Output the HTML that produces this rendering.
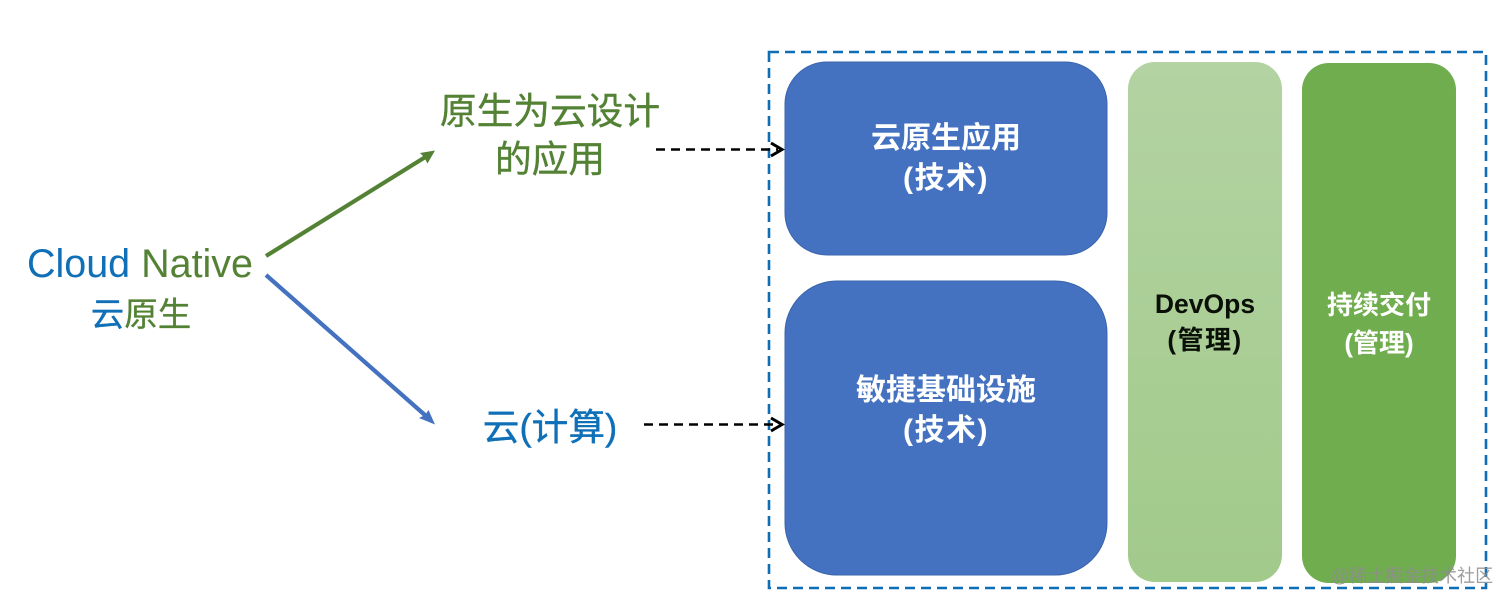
<!DOCTYPE html>
<html>
<head>
<meta charset="utf-8">
<style>
html,body{margin:0;padding:0;background:#fff;width:1512px;height:605px;overflow:hidden}
svg{display:block}
text{font-family:"Liberation Sans","Noto Sans CJK SC",sans-serif;text-anchor:middle}
</style>
</head>
<body>
<svg width="1512" height="605" viewBox="0 0 1512 605" xmlns="http://www.w3.org/2000/svg">
<defs>
<linearGradient id="dv" x1="0" y1="0" x2="0" y2="1"><stop offset="0" stop-color="#b3d3a2"/><stop offset="1" stop-color="#a2ca8b"/></linearGradient>
</defs>
<rect width="1512" height="605" fill="#fff"/>
<rect x="785" y="62" width="322" height="193" rx="42" fill="#4472c0" stroke="#3b64ad" stroke-width="1"/>
<rect x="785" y="281" width="322" height="294" rx="52" fill="#4472c0" stroke="#3b64ad" stroke-width="1"/>
<rect x="1128" y="62" width="154" height="520" rx="27" fill="url(#dv)"/>
<rect x="1302" y="63" width="154" height="520" rx="27" fill="#70ad4e"/>
<path d="M769 52H1486V588H769Z" fill="none" stroke="#0e6db5" stroke-width="2.600" stroke-dasharray="10 6"/>
<text x="140" y="277" font-size="39.500" fill="#0f70b7" textLength="226" lengthAdjust="spacing"><tspan>Cloud </tspan><tspan fill="#548235">Native</tspan></text>
<text x="141" y="326" font-size="33.500" fill="#548235" stroke="#548235" stroke-width="0.300"><tspan fill="#0f70b7" stroke="#0f70b7">云</tspan>原生</text>
<text x="550" y="124" font-size="36.700" fill="#548235" stroke="#548235" stroke-width="0.400">原生为云设计</text>
<text x="550" y="172" font-size="36.700" fill="#548235" stroke="#548235" stroke-width="0.400">的应用</text>
<text x="550" y="440" font-size="36.700" fill="#0f70b7" stroke="#0f70b7" stroke-width="0.400">云(计算)</text>
<text x="946" y="148" font-size="30" font-weight="700" fill="#fff">云原生应用</text>
<text x="946" y="188" font-size="30" font-weight="700" fill="#fff" letter-spacing="1.500">(技术)</text>
<text x="946" y="400" font-size="30" font-weight="700" fill="#fff">敏捷基础设施</text>
<text x="946" y="440" font-size="30" font-weight="700" fill="#fff" letter-spacing="1.500">(技术)</text>
<text x="1205" y="313" font-size="26.500" font-weight="700" fill="#0a0f08">DevOps</text>
<text x="1205" y="349" font-size="26" font-weight="700" fill="#0a0f08" letter-spacing="1.500">(管理)</text>
<text x="1379" y="314" font-size="26" font-weight="700" fill="#fff">持续交付</text>
<text x="1379" y="352" font-size="26" font-weight="700" fill="#fff">(管理)</text>
<line x1="266" y1="256" x2="426" y2="156.600" stroke="#548235" stroke-width="4.200"/>
<path d="M435 150.500L420 153L424 157L427.500 163.500Z" fill="#548235"/>
<line x1="266" y1="275" x2="426" y2="416" stroke="#4472c0" stroke-width="4.200"/>
<path d="M435 424.500L428.500 410L425 415L419 418Z" fill="#4472c0"/>
<path d="M656 149.500H778" stroke="#000" stroke-width="2.400" stroke-dasharray="9 6" fill="none"/>
<path d="M771 143L782 149.500L771 156" stroke="#000" stroke-width="3" fill="none"/>
<path d="M644 424.500H778" stroke="#000" stroke-width="2.400" stroke-dasharray="9 6" fill="none"/>
<path d="M771 418L782 424.500L771 431" stroke="#000" stroke-width="3" fill="none"/>
<text x="1412" y="582" font-size="18" fill="#8d8d8d" fill-opacity="0.850">@稀土掘金技术社区</text>
</svg>
</body>
</html>
